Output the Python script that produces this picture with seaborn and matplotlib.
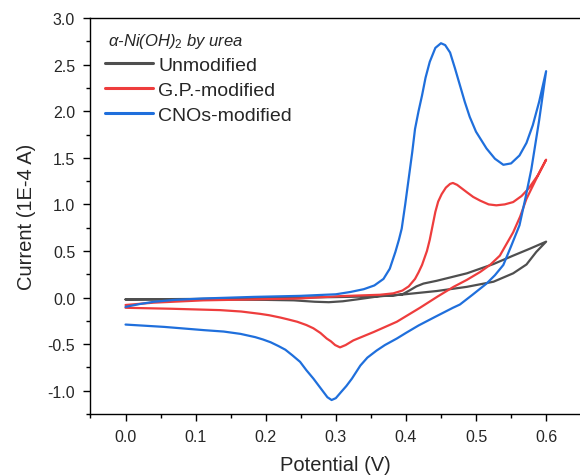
import numpy as np
import pandas as pd
import matplotlib
matplotlib.use("Agg")
import matplotlib.pyplot as plt
from matplotlib.lines import Line2D
from matplotlib.ticker import MultipleLocator
import seaborn as sns

# Cyclic voltammograms: anodic sweep 0 -> 0.6 V, then cathodic sweep back to 0 V
unmod_potential = [0.000, 0.100, 0.200, 0.300, 0.350, 0.380, 0.395, 0.406, 0.415, 0.425,
                   0.444, 0.487, 0.525, 0.553, 0.577, 0.600,
                   0.586, 0.572, 0.553, 0.525, 0.487, 0.444, 0.392, 0.363, 0.330, 0.310,
                   0.290, 0.270, 0.240, 0.200, 0.100, 0.000]
unmod_current = [-0.020, -0.015, -0.005, 0.005, 0.012, 0.020, 0.035, 0.080, 0.120, 0.150,
                 0.180, 0.260, 0.360, 0.450, 0.525, 0.600,
                 0.490, 0.355, 0.260, 0.170, 0.115, 0.070, 0.030, 0.015, -0.020, -0.040,
                 -0.050, -0.045, -0.030, -0.025, -0.020, -0.020]

gp_potential = [0.000, 0.040, 0.111, 0.183, 0.249, 0.306, 0.363, 0.382, 0.395, 0.404,
                0.413, 0.418, 0.423, 0.430, 0.434, 0.438, 0.442, 0.446, 0.451, 0.457,
                0.463, 0.467, 0.473, 0.480, 0.487, 0.496, 0.506, 0.518, 0.529, 0.541,
                0.553, 0.565, 0.575, 0.588, 0.600,
                0.586, 0.572, 0.563, 0.553, 0.534, 0.520, 0.506, 0.487, 0.468, 0.445,
                0.420, 0.387, 0.354, 0.325, 0.314, 0.306, 0.299, 0.293, 0.287, 0.278,
                0.268, 0.258, 0.245, 0.232, 0.221, 0.205, 0.192, 0.165, 0.135, 0.064,
                0.000]
gp_current = [-0.080, -0.055, -0.030, -0.020, -0.010, 0.015, 0.030, 0.045, 0.075, 0.120,
              0.200, 0.270, 0.350, 0.500, 0.620, 0.770, 0.920, 1.030, 1.110, 1.180,
              1.220, 1.230, 1.210, 1.170, 1.130, 1.080, 1.040, 1.000, 0.990, 1.000,
              1.025, 1.090, 1.170, 1.310, 1.480,
              1.275, 1.060, 0.870, 0.700, 0.450, 0.350, 0.275, 0.190, 0.115, 0.010,
              -0.110, -0.260, -0.370, -0.460, -0.510, -0.535, -0.510, -0.470, -0.440, -0.380,
              -0.330, -0.295, -0.260, -0.235, -0.215, -0.190, -0.175, -0.150, -0.135, -0.120,
              -0.110]

cno_potential = [0.000, 0.020, 0.040, 0.070, 0.111, 0.183, 0.249, 0.300, 0.321, 0.340,
                 0.355, 0.368, 0.377, 0.385, 0.390, 0.394, 0.399, 0.404, 0.409, 0.413,
                 0.418, 0.423, 0.428, 0.434, 0.442, 0.450, 0.456, 0.463, 0.470, 0.477,
                 0.484, 0.491, 0.500, 0.515, 0.527, 0.539, 0.550, 0.562, 0.572, 0.581,
                 0.590, 0.600,
                 0.590, 0.579, 0.570, 0.562, 0.550, 0.539, 0.527, 0.515, 0.495, 0.477,
                 0.467, 0.441, 0.418, 0.400, 0.387, 0.370, 0.358, 0.345, 0.335, 0.323,
                 0.315, 0.308, 0.300, 0.294, 0.288, 0.282, 0.275, 0.268, 0.258, 0.249,
                 0.238, 0.228, 0.218, 0.207, 0.196, 0.185, 0.164, 0.140, 0.112, 0.055,
                 0.000]
cno_current = [-0.100, -0.070, -0.046, -0.025, -0.010, 0.007, 0.018, 0.035, 0.060, 0.090,
               0.130, 0.200, 0.310, 0.490, 0.620, 0.740, 1.000, 1.280, 1.560, 1.810,
               2.000, 2.170, 2.360, 2.530, 2.680, 2.730, 2.710, 2.630, 2.460, 2.280,
               2.100, 1.940, 1.780, 1.600, 1.490, 1.425, 1.440, 1.525, 1.660, 1.850,
               2.100, 2.430,
               1.900, 1.380, 1.050, 0.775, 0.550, 0.350, 0.240, 0.150, 0.030, -0.075,
               -0.110, -0.210, -0.300, -0.380, -0.440, -0.510, -0.570, -0.645, -0.730, -0.870,
               -0.950, -1.010, -1.080, -1.100, -1.070, -1.010, -0.940, -0.870, -0.780, -0.690,
               -0.620, -0.560, -0.520, -0.480, -0.450, -0.425, -0.390, -0.365, -0.350, -0.315,
               -0.290]

labels = ["Unmodified", "G.P.-modified", "CNOs-modified"]
colors = ["#4f4f4f", "#ee3d3d", "#1f6fdc"]

frames = []
for lab, pot, cur in zip(labels,
                         [unmod_potential, gp_potential, cno_potential],
                         [unmod_current, gp_current, cno_current]):
    frames.append(pd.DataFrame({"Potential": pot, "Current": cur, "Sample": lab}))
df = pd.concat(frames, ignore_index=True)

sns.set_style("ticks")
plt.rcParams["font.family"] = ["Liberation Sans", "DejaVu Sans"]
plt.rcParams["mathtext.fontset"] = "custom"
plt.rcParams["mathtext.rm"] = "Liberation Sans"
plt.rcParams["mathtext.it"] = "Liberation Sans:italic"
plt.rcParams["mathtext.default"] = "it"

fig = plt.figure(figsize=(5.8, 4.77), dpi=100)
ax = fig.add_axes([0.156, 0.130, 0.846, 0.830])

sns.lineplot(data=df, x="Potential", y="Current", hue="Sample", hue_order=labels,
             palette=dict(zip(labels, colors)), sort=False, estimator=None,
             units="Sample", linewidth=1.6, legend=False, ax=ax)

ax.set_xlim(-0.05, 0.65)
ax.set_ylim(-1.25, 3.0)
ax.xaxis.set_minor_locator(MultipleLocator(0.05))
ax.yaxis.set_minor_locator(MultipleLocator(0.25))
xt = np.round(np.arange(0.0, 0.61, 0.1), 2)
yt = np.round(np.arange(-1.0, 3.01, 0.5), 2)
ax.set_xticks(xt)
ax.set_xticklabels([f"{v:.1f}" for v in xt])
ax.set_yticks(yt)
ax.set_yticklabels([f"{v:.1f}" for v in yt])

ax.tick_params(axis="both", which="major", direction="out", length=5, width=1,
               labelsize=11.5, color="black", pad=6)
ax.tick_params(axis="both", which="minor", direction="out", length=3, width=1,
               color="black")
for side in ["left", "bottom", "top"]:
    ax.spines[side].set_color("black")
    ax.spines[side].set_linewidth(1.0)
ax.spines["right"].set_visible(False)

ax.set_xlabel("Potential (V)", fontsize=14.5, labelpad=8)
ax.set_ylabel("Current (1E-4 A)", fontsize=14.5, labelpad=8)

# Legend entries, with the sample description placed above them
handles = [Line2D([0], [0], color=c, lw=2.2) for c in colors]
ax.legend(handles, labels, loc="upper left", bbox_to_anchor=(0.004, 0.935),
          frameon=False, fontsize=14, handlelength=2.45, handletextpad=0.28,
          labelspacing=0.37, borderaxespad=0.35, borderpad=0.3)
ax.text(0.036, 0.944, r"$\alpha$-Ni(OH)$_2$ by urea", transform=ax.transAxes,
        fontsize=12, fontstyle="italic", ha="left", va="center")

fig.savefig("out.png", dpi=100)
